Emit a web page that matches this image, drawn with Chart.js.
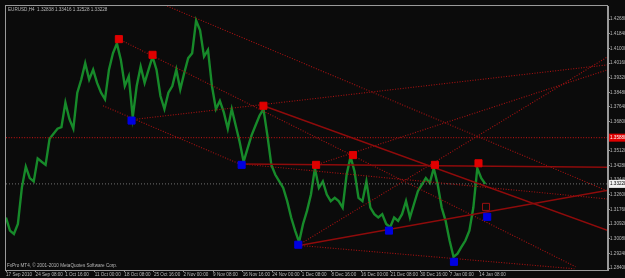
<!DOCTYPE html>
<html>
<head>
<meta charset="utf-8">
<script src="https://cdn.jsdelivr.net/npm/chart.js@4.4.0/dist/chart.umd.min.js"></script>
<style>
  html, body { margin: 0; padding: 0; background: #0b0b0b; }
</style>
</head>
<body>
<canvas id="mt4Chart" width="625" height="278"></canvas>
<script>
// EURUSD H4 closes, one sample every ~4 bars
const closes = [
  1.3130, 1.3055, 1.3036, 1.3093, 1.3300, 1.3422, 1.3356, 1.3337, 1.3469, 1.3450,
  1.3432, 1.3582, 1.3610, 1.3639, 1.3648, 1.3789, 1.3695, 1.3639, 1.3846, 1.3921,
  1.4015, 1.3921, 1.3978, 1.3902, 1.3846, 1.3808, 1.3978, 1.4072, 1.4128, 1.4034,
  1.3884, 1.3940, 1.3705, 1.3884, 1.3996, 1.3902, 1.3978, 1.4053, 1.3978, 1.3827,
  1.3752, 1.3846, 1.3884, 1.3978, 1.3865, 1.3959, 1.4044, 1.4072, 1.4260, 1.4204,
  1.4053, 1.4091, 1.3884, 1.3752, 1.3799, 1.3733, 1.3639, 1.3752, 1.3658, 1.3563,
  1.3450, 1.3526, 1.3601, 1.3658, 1.3714, 1.3752, 1.3601, 1.3432, 1.3375, 1.3337,
  1.3300, 1.3224, 1.3130, 1.3055, 1.2989, 1.3093, 1.3168, 1.3262, 1.3413, 1.3300,
  1.3337, 1.3262, 1.3224, 1.3243, 1.3224, 1.3187, 1.3375, 1.3479, 1.3394, 1.3243,
  1.3224, 1.3337, 1.3187, 1.3149, 1.3130, 1.3149, 1.3093, 1.3074, 1.3130, 1.3111,
  1.3149, 1.3224, 1.3130, 1.3206, 1.3281, 1.3319, 1.3356, 1.3328, 1.3413, 1.3319,
  1.3187, 1.3111, 1.2998, 1.2904, 1.2923, 1.2961, 1.2998, 1.3055, 1.3187, 1.3413,
  1.3356, 1.3323
];

const timeLabels = [
  '17 Sep 2010', '24 Sep 08:00', '1 Oct 16:00', '11 Oct 00:00', '18 Oct 08:00',
  '25 Oct 16:00', '2 Nov 00:00', '9 Nov 08:00', '16 Nov 16:00', '24 Nov 00:00',
  '1 Dec 08:00', '8 Dec 16:00', '16 Dec 00:00', '21 Dec 08:00', '30 Dec 16:00',
  '7 Jan 00:00', '14 Jan 08:00'
];
const labelStep = 7.47;

const priceTicks = [
  1.42680, 1.41840, 1.41000, 1.40160, 1.39320, 1.38480, 1.37640, 1.36800, 1.35960,
  1.35120, 1.34280, 1.33440, 1.32600, 1.31760, 1.30920, 1.30080, 1.29240, 1.28400
];

// fractal markers
const highMarkX = [28.5, 37, 65, 78.3, 87.6, 108.3, 119.3];
const highMarkY = [1.4153, 1.4063, 1.3771, 1.3432, 1.3488, 1.3432, 1.3441];
const lowMarkX = [31.7, 59.5, 73.8, 96.7, 113.1, 121.5];
const lowMarkY = [1.3686, 1.3432, 1.2974, 1.3055, 1.2876, 1.3134];
const openMarkX = [121.2];
const openMarkY = [1.3191];

// trend lines: [x1, price1, x2, price2]
const dottedLines = [
  [39.5, 1.4354, 152, 1.3281],
  [28.5, 1.4153, 143.8, 1.2848],
  [31.7, 1.3691, 152, 1.4006],
  [74, 1.2974, 152, 1.4053],
  [78.3, 1.3432, 152, 1.3978],
  [59.5, 1.3437, 152, 1.3236],
  [74, 1.2970, 143.5, 1.2836],
  [24.5, 1.3771, 59.5, 1.3432]
];
const solidLines = [
  [65, 1.3771, 152, 1.3055],
  [74, 1.2970, 152, 1.3287],
  [59.5, 1.3437, 152, 1.3418]
];

const bid = 1.33228;
const alertLevel = 1.35880;
const header = 'EURUSD,H4  1.32838 1.33416 1.32528 1.33228';
const footer = 'FxPro MT4, \u00a9 2001-2010 MetaQuotes Software Corp.';

const textColor = '#b8b8b8';
const tinyFont = { family: 'Liberation Sans', size: 4.6 };

function pts(xs, ys) {
  return xs.map((x, i) => ({ x: x, y: ys[i] }));
}

function lineSet(l, dashed, width) {
  return {
    type: 'line',
    data: [{ x: l[0], y: l[1] }, { x: l[2], y: l[3] }],
    borderColor: dashed ? '#a81212' : '#8e0b0b',
    borderWidth: width,
    borderDash: dashed ? [1, 1.6] : [],
    pointRadius: 0,
    tension: 0
  };
}

const datasets = [
  {
    type: 'scatter', data: pts(highMarkX, highMarkY),
    pointStyle: 'rect', pointRadius: 5, backgroundColor: '#e00000', borderColor: '#e00000'
  },
  {
    type: 'scatter', data: pts(lowMarkX, lowMarkY),
    pointStyle: 'rect', pointRadius: 5, backgroundColor: '#0000e0', borderColor: '#0000e0'
  },
  {
    type: 'scatter', data: pts(openMarkX, openMarkY),
    pointStyle: 'rect', pointRadius: 5, backgroundColor: 'transparent', borderColor: '#9a1010', borderWidth: 1
  }
];
solidLines.forEach(l => datasets.push(lineSet(l, false, 1.5)));
dottedLines.forEach(l => datasets.push(lineSet(l, true, 1.1)));
datasets.push({
  type: 'line', data: [{ x: 0, y: alertLevel }, { x: 152, y: alertLevel }],
  borderColor: '#a81212', borderWidth: 1.1, borderDash: [1, 1.6], pointRadius: 0
});
datasets.push({
  type: 'line', data: [{ x: 0, y: bid }, { x: 152, y: bid }],
  borderColor: '#707070', borderWidth: 1, borderDash: [1, 2], pointRadius: 0
});
datasets.push({
  type: 'line', data: closes.map((c, i) => ({ x: i, y: c })),
  borderColor: '#178a2a', borderWidth: 2.4, pointRadius: 0, tension: 0
});

const overlay = {
  id: 'overlay',
  afterDraw(chart) {
    const ctx = chart.ctx;
    const a = chart.chartArea;
    const y = chart.scales.y;
    ctx.save();
    ctx.strokeStyle = '#9a9a9a';
    ctx.lineWidth = 1;
    ctx.strokeRect(a.left - 0.5, a.top - 0.5, a.right - a.left, a.bottom - a.top + 1);
    ctx.font = '4.6px "Liberation Sans"';
    ctx.fillStyle = textColor;
    ctx.textBaseline = 'middle';
    ctx.textAlign = 'left';
    ctx.fillText(header, a.left + 2, a.top + 4);
    ctx.fillText(footer, a.left + 1, a.bottom - 4);

    const tags = [[alertLevel, '#e00000', '#ffffff'], [bid, '#f0f0f0', '#000000']];
    tags.forEach(t => {
      const py = y.getPixelForValue(t[0]);
      ctx.fillStyle = t[1];
      ctx.fillRect(a.right + 1, py - 4, 625 - a.right, 8);
      ctx.fillStyle = t[2];
      ctx.fillText(t[0].toFixed(5), a.right + 2, py);
    });
    ctx.restore();
  }
};

new Chart(document.getElementById('mt4Chart'), {
  data: { datasets: datasets },
  options: {
    responsive: false,
    animation: false,
    layout: { padding: { left: 2, top: 2, right: 0, bottom: 0 } },
    plugins: { legend: { display: false }, tooltip: { enabled: false } },
    scales: {
      x: {
        type: 'linear',
        min: 0,
        max: 152,
        afterBuildTicks: s => { s.ticks = timeLabels.map((l, k) => ({ value: k * labelStep })); },
        afterFit: s => { s.height = 8; },
        grid: { drawOnChartArea: false, color: '#9a9a9a', tickLength: 2 },
        border: { color: '#9a9a9a' },
        ticks: {
          autoSkip: false, maxRotation: 0, align: 'start', padding: 0,
          color: textColor, font: tinyFont,
          callback: (v, i) => timeLabels[i]
        }
      },
      y: {
        type: 'linear',
        position: 'right',
        min: 1.2829,
        max: 1.4343,
        afterBuildTicks: s => { s.ticks = priceTicks.map(v => ({ value: v })); },
        afterFit: s => { s.width = 17; },
        grid: { drawOnChartArea: false, color: '#9a9a9a', tickLength: 2 },
        border: { color: '#9a9a9a' },
        ticks: {
          padding: 0, color: textColor, font: tinyFont,
          callback: v => v.toFixed(5)
        }
      }
    }
  },
  plugins: [overlay]
});
</script>
</body>
</html>
